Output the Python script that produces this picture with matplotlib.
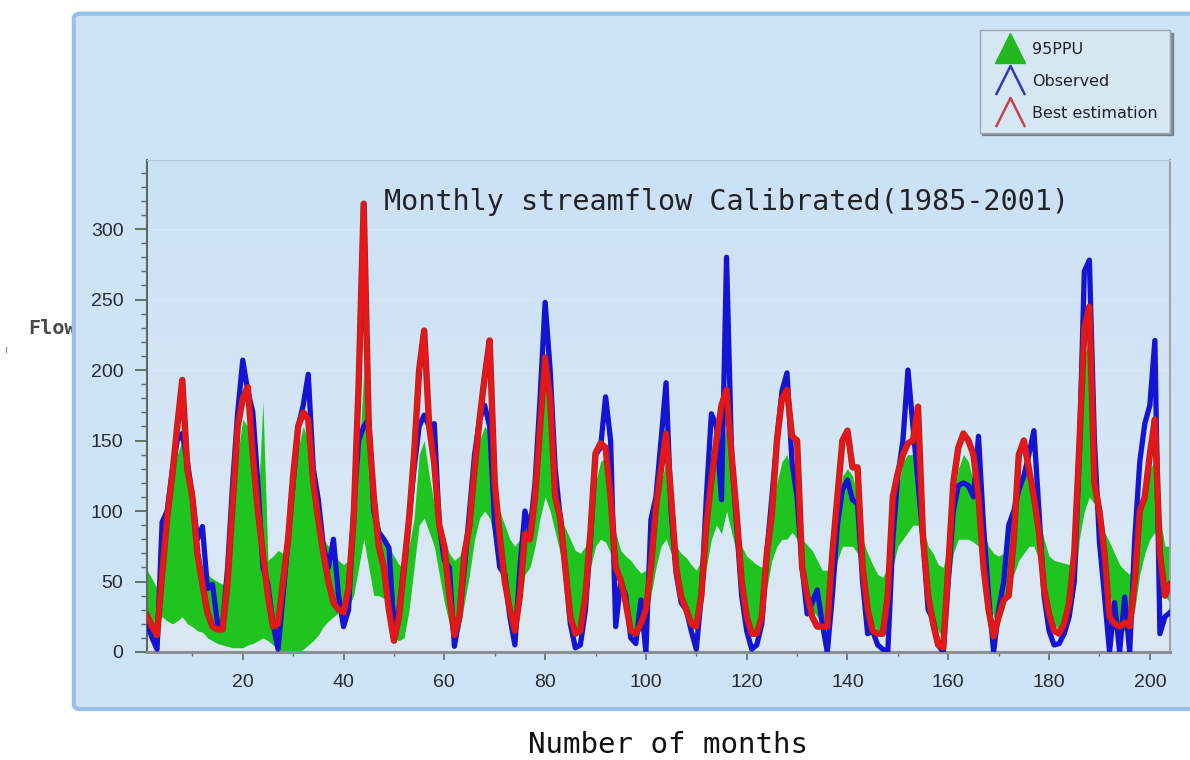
import numpy as np
import matplotlib
matplotlib.use('Agg')
import matplotlib.pyplot as plt
from matplotlib.lines import Line2D
from matplotlib.path import Path
from matplotlib.patches import FancyBboxPatch
import matplotlib.patheffects as pe

# monthly flow, Jan 1985 .. Dec 2001 (204 months)
observed = [20, 10, 2, 92, 100, 128, 150, 155, 135, 110, 80, 89,
            45, 48, 20, 18, 60, 120, 170, 207, 185, 170, 120, 60,
            48, 20, 2, 40, 80, 120, 160, 175, 197, 130, 108, 75,
            60, 80, 40, 18, 30, 100, 150, 160, 165, 100, 85, 80,
            74, 18, 30, 60, 95, 130, 160, 168, 160, 162, 90, 65,
            60, 4, 25, 60, 100, 140, 165, 175, 160, 90, 60, 55,
            25, 5, 60, 100, 85, 120, 180, 248, 200, 130, 95, 60,
            20, 3, 5, 30, 80, 140, 145, 181, 150, 18, 50, 40,
            10, 6, 37, 0, 94, 110, 150, 191, 100, 56, 35, 30,
            15, 2, 40, 110, 169, 160, 108, 280, 140, 90, 40, 15,
            2, 5, 20, 70, 110, 150, 185, 198, 134, 110, 60, 27,
            35, 44, 20, 0, 40, 90, 115, 122, 108, 105, 50, 13,
            15, 5, 2, 0, 80, 125, 150, 200, 160, 120, 80, 30,
            23, 5, 0, 50, 100, 118, 120, 118, 110, 153, 89, 40,
            0, 30, 50, 90, 100, 115, 125, 140, 157, 100, 40, 15,
            5, 6, 13, 25, 50, 140, 270, 278, 150, 78, 40, 0,
            35, 0, 39, 0, 80, 135, 162, 175, 221, 13, 25, 28]

best_est = [26, 18, 12, 55, 95, 125, 160, 193, 130, 110, 70, 48,
            28, 18, 16, 16, 50, 105, 160, 180, 188, 140, 100, 70,
            40, 18, 20, 50, 80, 125, 160, 170, 165, 120, 94, 70,
            50, 35, 30, 28, 45, 94, 190, 318, 160, 110, 75, 60,
            30, 8, 25, 60, 94, 140, 200, 228, 160, 134, 90, 75,
            40, 12, 25, 70, 90, 130, 165, 195, 221, 120, 82, 50,
            30, 15, 40, 84, 80, 110, 160, 209, 180, 110, 95, 60,
            25, 13, 15, 40, 85, 141, 148, 145, 110, 60, 51, 35,
            15, 13, 20, 30, 60, 103, 130, 155, 110, 60, 39, 30,
            20, 18, 40, 90, 122, 150, 175, 186, 140, 98, 50, 25,
            13, 13, 25, 70, 98, 150, 180, 186, 153, 150, 60, 40,
            25, 18, 18, 18, 70, 110, 150, 157, 131, 131, 60, 30,
            15, 13, 13, 40, 110, 127, 140, 148, 150, 174, 80, 40,
            20, 5, 3, 60, 120, 145, 155, 150, 140, 110, 60, 30,
            11, 25, 37, 40, 80, 140, 150, 130, 110, 85, 45, 27,
            15, 13, 20, 35, 70, 145, 230, 245, 120, 100, 70, 25,
            20, 18, 21, 18, 50, 100, 110, 140, 165, 70, 40, 48]

ppu_low = [22, 18, 20, 25, 22, 20, 22, 25, 20, 18, 15, 14,
           10, 8, 6, 5, 4, 3, 3, 3, 5, 6, 8, 10,
           8, 5, 2, 0, 0, 0, 0, 2, 5, 8, 12, 18,
           22, 25, 28, 30, 32, 40, 60, 80, 60, 40, 40, 38,
           35, 10, 8, 10, 30, 60, 90, 95, 85, 75, 55, 35,
           20, 10, 15, 35, 55, 80, 95, 100, 95, 80, 65, 45,
           25, 15, 30, 55, 60, 75, 95, 110, 100, 85, 70, 50,
           30, 15, 20, 35, 60, 75, 80, 78, 70, 55, 45, 30,
           20, 12, 15, 20, 40, 60, 75, 80, 70, 50, 40, 30,
           20, 15, 30, 60, 80, 90, 84, 100, 85, 70, 45, 25,
           15, 15, 20, 45, 65, 75, 80, 80, 85, 80, 55, 40,
           30, 25, 20, 20, 40, 65, 75, 75, 75, 70, 50, 30,
           20, 15, 15, 30, 60, 75, 80, 85, 90, 90, 65, 40,
           25, 15, 10, 40, 70, 80, 80, 80, 78, 75, 60, 40,
           25, 20, 30, 45, 55, 65, 70, 75, 75, 65, 50, 30,
           20, 15, 18, 25, 40, 80, 100, 110, 105, 85, 70, 45,
           20, 15, 15, 15, 30, 55, 70, 80, 85, 70, 40, 35]

ppu_up = [58, 52, 45, 70, 95, 120, 140, 150, 120, 90, 70, 58,
          55, 52, 50, 48, 60, 100, 140, 165, 160, 130, 100, 178,
          65, 68, 72, 70, 85, 110, 145, 160, 150, 110, 85, 80,
          75, 70, 65, 62, 65, 80, 130, 200, 120, 95, 80, 78,
          75, 68, 62, 60, 75, 95, 140, 150, 125, 105, 90, 80,
          70, 65, 68, 75, 90, 120, 150, 160, 155, 108, 100, 90,
          80, 75, 80, 95, 100, 105, 180, 200, 165, 105, 95, 88,
          80, 72, 70, 75, 90, 120, 135, 138, 120, 85, 72, 68,
          65, 60, 56, 58, 75, 95, 120, 135, 100, 75, 70, 67,
          62, 58, 65, 90, 120, 140, 140, 160, 120, 100, 75, 68,
          65, 62, 60, 75, 95, 120, 135, 140, 127, 110, 80, 76,
          72, 65, 58, 58, 70, 100, 125, 130, 125, 110, 80, 70,
          62, 55, 53, 60, 85, 115, 135, 140, 140, 130, 90, 75,
          70, 62, 60, 75, 110, 130, 140, 135, 120, 110, 85, 75,
          70, 68, 70, 85, 103, 110, 130, 125, 115, 95, 80, 68,
          65, 64, 63, 62, 70, 150, 210, 220, 140, 110, 85, 78,
          70, 62, 58, 55, 62, 90, 120, 130, 135, 95, 75, 75]

months = np.arange(1, len(observed) + 1)
y_ticks = [0, 50, 100, 150, 200, 250, 300]
x_ticks = [20, 40, 60, 80, 100, 120, 140, 160, 180, 200]

fig = plt.figure(figsize=(11.9, 7.6), dpi=100)
fig.patch.set_facecolor('white')

# blue frame behind the plot area
panel = FancyBboxPatch((0.062, 0.067), 1.0, 0.915, transform=fig.transFigure,
                       boxstyle='round,pad=0,rounding_size=0.006',
                       facecolor='#cfe3f6', edgecolor='#98c0e6', linewidth=3,
                       zorder=-1)
fig.add_artist(panel)
fig.text(0.024, 1 - 328 / 760, 'Flow', fontsize=14.5, family='DejaVu Sans Mono',
         weight='bold', color='#4a4a4a', va='center', ha='left', zorder=-2)
fig.text(0.004, 1 - 350 / 760, 'ı', fontsize=8, color='#8a8a8a',
         va='center', ha='left', zorder=-2)

ax = fig.add_axes([147 / 1190, 1 - 652 / 760, 1023 / 1190, 492 / 760])
ax.set_facecolor('#d4e6f6')
grad = np.linspace(0, 1, 256).reshape(-1, 1)
ax.imshow(grad, extent=[0, 1, 0, 1], transform=ax.transAxes, aspect='auto',
          cmap=matplotlib.colors.LinearSegmentedColormap.from_list(
              'bg', ['#cbe1f5', '#dce9f4']), zorder=0)

ax.fill_between(months, ppu_low, ppu_up, color='#1fc41f', linewidth=0, zorder=2)
ax.plot(months, observed, color='#1414d2', linewidth=3.8, zorder=3)
ax.plot(months, best_est, color='#e8161a', linewidth=3.4, zorder=4,
        path_effects=[pe.Stroke(linewidth=4.6, foreground='#a82818'), pe.Normal()])

ax.set_xlim(1, 204)
ax.set_ylim(0, 349)
ax.set_yticks(y_ticks)
ax.set_yticks(np.arange(0, 350, 10), minor=True)
ax.set_xticks(x_ticks)
ax.set_xticks(np.arange(10, 205, 20), minor=True)
ax.yaxis.grid(True, color='#d8e8f6', linewidth=1.0, zorder=1)
ax.set_axisbelow(True)

ax.tick_params(axis='y', which='major', length=9, width=1.3, color='#5c6b5c',
               pad=8, labelsize=14, labelcolor='#262b33')
ax.tick_params(axis='y', which='minor', length=4, width=1.0, color='#5c6b5c')
ax.tick_params(axis='x', which='major', length=6, width=1.2, color='#6a6a6a',
               pad=10, labelsize=14, labelcolor='#262b33')
ax.tick_params(axis='x', which='minor', length=3, width=1.0, color='#6a6a6a')
for lbl in ax.get_yticklabels():
    lbl.set_family('Liberation Sans')
for lbl in ax.get_xticklabels():
    lbl.set_family(['Liberation Sans Narrow', 'Liberation Sans'])

ax.spines['left'].set_color('#5c6b5c')
ax.spines['left'].set_linewidth(1.5)
ax.spines['bottom'].set_color('#8a8f94')
ax.spines['bottom'].set_linewidth(2.2)
ax.spines['top'].set_color('#b4c4d0')
ax.spines['right'].set_color('#9aa4ac')
ax.spines['right'].set_linewidth(1.5)

ax.text(0.566, 0.915, 'Monthly streamflow Calibrated(1985-2001)',
        transform=ax.transAxes, ha='center', va='center', fontsize=20.5,
        family='DejaVu Sans Mono', color='#20242a', zorder=6)

fig.text(668 / 1190, 1 - 745 / 760, 'Number of months', ha='center', va='center',
         fontsize=21, family='DejaVu Sans Mono', color='#111111')

# legend with chevron-style line keys
chevron = Path([(-1, -1), (0, 1), (1, -1)], [Path.MOVETO, Path.LINETO, Path.LINETO])
handles = [
    Line2D([], [], linestyle='none', marker='^', markersize=21,
           color='#22b822', markeredgecolor='#22b822'),
    Line2D([], [], linestyle='none', marker=chevron, markersize=21,
           markerfacecolor='none', markeredgecolor='#3438b0', markeredgewidth=1.8),
    Line2D([], [], linestyle='none', marker=chevron, markersize=21,
           markerfacecolor='none', markeredgecolor='#c8404c', markeredgewidth=1.8),
]
leg = fig.legend(handles, ['95PPU', 'Observed', 'Best estimation'],
                 loc='upper right', bbox_to_anchor=(1170 / 1190, 1 - 30 / 760),
                 frameon=True, fancybox=False, shadow=True,
                 prop={'family': 'DejaVu Sans', 'size': 11.5},
                 handlelength=2.3, handletextpad=0.25, labelspacing=1.05,
                 borderpad=0.75, borderaxespad=0.0)
leg.get_frame().set_facecolor('#d6e7f4')
leg.get_frame().set_edgecolor('#9aa6b0')
leg.get_frame().set_alpha(1)
for t in leg.get_texts():
    t.set_color('#1e2228')

fig.savefig('out.png', dpi=100)
